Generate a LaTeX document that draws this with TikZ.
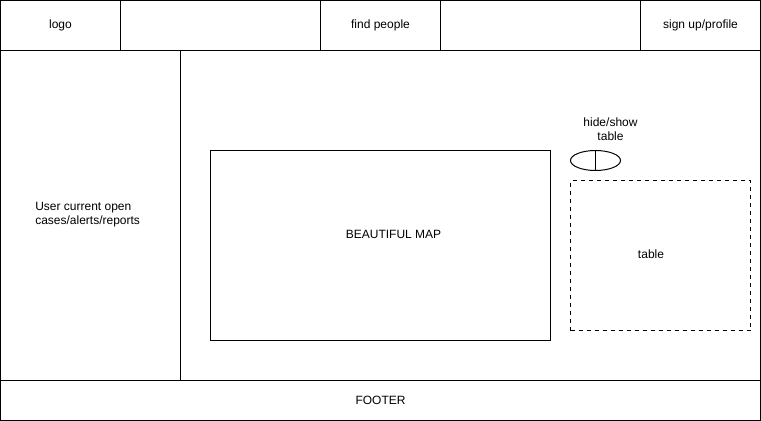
\documentclass[tikz,border=0pt]{standalone}
\usepackage{fontspec}
\setmainfont{Liberation Sans}
\usetikzlibrary{positioning,shapes.geometric}

\begin{document}
\begin{tikzpicture}[x=0.75pt,y=-0.75pt,
    every node/.style={font=\fontsize{9}{10.5}\selectfont},
    cell/.style={draw,line width=0.75pt,inner sep=0pt,outer sep=0pt,anchor=north west},
    txt/.style={inner sep=0pt}]
    \useasboundingbox (-0.5,-0.5) rectangle (760.5,420.5);
    % header bar
    \node[cell,minimum width=90pt,minimum height=37.5pt] (logo) at (0,0) {logo};
    \node[cell,minimum width=150pt,minimum height=37.5pt,right=0pt of logo] (gapa) {};
    \node[cell,minimum width=90pt,minimum height=37.5pt,right=0pt of gapa] (find) {find people};
    \node[cell,minimum width=150pt,minimum height=37.5pt,right=0pt of find] (gapb) {};
    \node[cell,minimum width=90pt,minimum height=37.5pt,right=0pt of gapb] (profile) {sign up/profile};
    % side panel and main area
    \node[cell,minimum width=135pt,minimum height=247.5pt] (side) at (0,50) {};
    \node[txt,align=left,anchor=west] (cases) at (34.5,214.5) {User current open\\cases/alerts/reports};
    \node[cell,minimum width=435pt,minimum height=247.5pt] (main) at (180,50) {};
    % map and table
    \node[cell,minimum width=255pt,minimum height=142.5pt] (map) at (210,150) {};
    \node[txt] (maptext) at (393,234) {BEAUTIFUL MAP};
    \node[cell,dashed,minimum width=135pt,minimum height=112.5pt] (table) at (570,180) {};
    \node[txt] (tabletext) at (650.5,254) {table};
    \node[txt,align=center] (hide) at (610,129) {hide/show\\table};
    \node[ellipse,draw,line width=0.75pt,inner sep=0pt,minimum width=37.5pt,minimum height=15pt] (toggle) at (595,160) {};
    \draw[line width=0.75pt] (toggle.north) -- (toggle.south);
    % footer
    \node[cell,minimum width=570pt,minimum height=30pt] (footer) at (0,380) {FOOTER};
\end{tikzpicture}
\end{document}
